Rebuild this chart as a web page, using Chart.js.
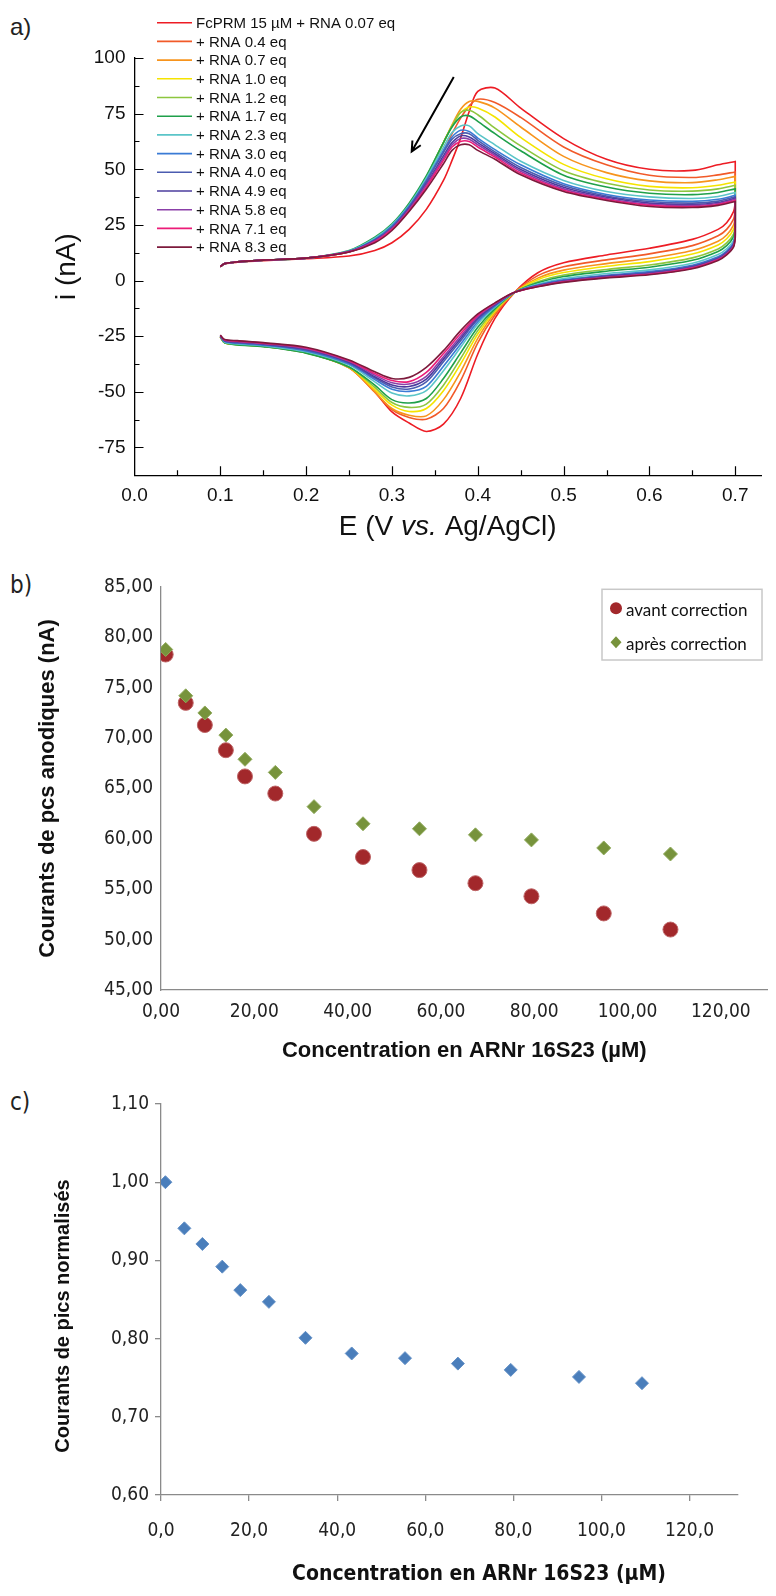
<!DOCTYPE html>
<html>
<head>
<meta charset="utf-8">
<script src="https://cdn.jsdelivr.net/npm/chart.js@4.4.0/dist/chart.umd.min.js"></script>
<style>
  body { margin: 0; background: #fff; width: 776px; height: 1596px; position: relative; overflow: hidden; }
  canvas { position: absolute; left: 0; }
  .lab { position: absolute; left: 10px; font-size: 24px; line-height: 24px; color: #222; }
</style>
</head>
<body>
<div class="lab" style="top:15px;font-family:'Liberation Sans',Arial,sans-serif">a)</div>
<div class="lab" style="top:573px;font-family:'Liberation Sans Narrow','DejaVu Sans Condensed',sans-serif">b)</div>
<div class="lab" style="top:1090px;font-family:'Liberation Sans Narrow','DejaVu Sans Condensed',sans-serif">c)</div>
<canvas id="cv" style="top:0" width="776" height="550"></canvas>
<canvas id="peaks" style="top:560px" width="776" height="510"></canvas>
<canvas id="norm" style="top:1070px" width="776" height="526"></canvas>
<script>
// ---------- panel a : voltammograms ----------
const EQ_LABELS = ['FcPRM 15 µM + RNA 0.07 eq', '+ RNA 0.4 eq', '+ RNA 0.7 eq', '+ RNA 1.0 eq',
  '+ RNA 1.2 eq', '+ RNA 1.7 eq', '+ RNA 2.3 eq', '+ RNA 3.0 eq', '+ RNA 4.0 eq',
  '+ RNA 4.9 eq', '+ RNA 5.8 eq', '+ RNA 7.1 eq', '+ RNA 8.3 eq'];
const CV_COLORS = ['#ed1c24', '#f15a29', '#f7941d', '#f5e400', '#8dc63f', '#1fa04a', '#5bc5c8',
  '#3a7bd5', '#4b5cb0', '#4b3c9e', '#8b3fa8', '#ec1c78', '#7d1a3c'];

// potential grid, forward (upper) branch then reverse (lower) branch
const E_FWD = [0.100, 0.105, 0.12, 0.15, 0.20, 0.25, 0.28, 0.30, 0.32, 0.34, 0.36, 0.37, 0.38, 0.39, 0.40, 0.42, 0.45, 0.50, 0.55, 0.60, 0.65, 0.68, 0.70];
const E_REV = [0.70, 0.698, 0.69, 0.68, 0.65, 0.60, 0.55, 0.50, 0.47, 0.443, 0.42, 0.40, 0.38, 0.36, 0.34, 0.32, 0.30, 0.28, 0.25, 0.20, 0.15, 0.12, 0.105, 0.10];

const FWD_007 = [6.3, 7.5, 8.2, 8.9, 9.8, 11.0, 13.5, 17.0, 23.0, 32.0, 45.0, 54.0, 64.0, 76.0, 85.0, 86.5, 77.5, 63.8, 54.5, 50.0, 49.5, 52.0, 53.5];
const FWD_04 = [6.3, 7.6, 8.4, 9.2, 10.1, 12.8, 18.0, 24.0, 33.0, 45.0, 58.0, 66.0, 73.0, 78.5, 81.5, 80.0, 73.3, 60.0, 52.0, 47.3, 46.3, 47.5, 48.8];
const FWD_07 = [6.3, 7.6, 8.4, 9.2, 10.1, 13.0, 18.5, 24.5, 33.5, 46.0, 62.0, 70.0, 77.0, 80.5, 80.5, 77.5, 69.0, 55.8, 48.5, 44.8, 44.0, 45.3, 46.8];
const FWD_10 = [6.3, 7.6, 8.4, 9.2, 10.1, 13.0, 19.0, 25.0, 34.0, 46.5, 62.0, 69.5, 75.5, 78.0, 77.5, 73.5, 64.3, 52.2, 45.7, 42.3, 41.7, 42.8, 44.3];
const FWD_12 = [6.3, 7.6, 8.4, 9.2, 10.1, 13.2, 19.0, 25.0, 34.0, 46.5, 62.0, 69.5, 75.5, 76.5, 74.5, 68.5, 60.5, 49.3, 43.7, 40.7, 40.2, 41.2, 42.8];
const FWD_17 = [6.3, 7.6, 8.4, 9.2, 10.1, 13.5, 19.5, 25.5, 34.8, 47.0, 62.0, 69.0, 73.5, 74.0, 71.5, 66.0, 58.3, 47.3, 42.0, 39.2, 38.6, 39.6, 41.2];
const FWD_23 = [6.3, 7.6, 8.4, 9.2, 10.1, 13.3, 19.0, 25.0, 34.0, 46.0, 60.0, 66.5, 69.5, 69.5, 66.0, 61.0, 53.6, 45.0, 40.0, 37.6, 36.9, 37.8, 39.6];
const FWD_30 = [6.3, 7.6, 8.4, 9.2, 10.1, 13.2, 18.5, 24.5, 33.5, 45.0, 58.5, 64.5, 67.5, 67.0, 64.0, 58.8, 52.0, 43.5, 38.7, 36.2, 35.6, 36.5, 38.3];
const FWD_40 = [6.3, 7.6, 8.4, 9.2, 10.1, 13.1, 18.3, 24.0, 33.0, 44.5, 57.5, 63.5, 66.0, 66.0, 63.0, 57.8, 50.8, 42.7, 38.0, 35.5, 34.8, 35.7, 37.6];
const FWD_49 = [6.3, 7.6, 8.4, 9.2, 10.1, 13.0, 18.0, 23.5, 32.5, 43.5, 56.0, 62.0, 65.0, 64.5, 62.0, 57.0, 49.9, 41.9, 37.4, 34.8, 34.2, 35.1, 37.0];
const FWD_58 = [6.3, 7.6, 8.4, 9.2, 10.1, 13.0, 17.8, 23.3, 32.0, 43.0, 55.0, 61.0, 63.8, 63.5, 61.0, 56.3, 49.1, 41.2, 36.9, 34.3, 33.7, 34.6, 36.5];
const FWD_71 = [6.3, 7.6, 8.4, 9.2, 10.1, 12.9, 17.5, 23.0, 31.5, 42.0, 54.0, 60.0, 62.5, 62.5, 60.0, 55.5, 48.3, 40.6, 36.4, 33.8, 33.2, 34.2, 36.0];
const FWD_83 = [6.3, 7.6, 8.4, 9.2, 10.1, 12.8, 17.0, 22.5, 31.0, 41.0, 52.5, 58.5, 61.0, 61.0, 58.5, 54.5, 47.5, 40.0, 36.0, 33.3, 32.8, 33.8, 35.5];

const REV_007 = [35, 31, 26, 23, 18.5, 14.5, 11.5, 8, 3.5, -5.3, -17, -33, -53, -64.5, -67.8, -64, -59, -50, -39, -32.3, -29.4, -28.6, -27.8, -25.3];
const REV_04 = [31.6, 27.6, 23, 20.1, 15.7, 12, 9.3, 6.2, 2.2, -5.3, -15.5, -28, -45, -57.5, -62.3, -61.5, -58, -50.2, -39.2, -32.4, -29.5, -28.7, -27.9, -25.3];
const REV_07 = [28.9, 24.9, 20.5, 17.7, 13.5, 10, 7.6, 4.7, 1.1, -5.3, -14.5, -26, -41, -53.5, -60.8, -60.5, -57.5, -50, -39.2, -32.4, -29.5, -28.7, -27.9, -25.3];
const REV_10 = [27, 23, 18.8, 16, 11.9, 8.5, 6.4, 3.6, 0.4, -5.3, -13.8, -24, -37.5, -49.5, -57.5, -58.8, -56, -49, -39, -32.4, -29.5, -28.7, -27.9, -25.3];
const REV_12 = [24.9, 20.9, 16.9, 14.2, 10.2, 7, 5, 2.5, -0.5, -5.3, -13.2, -22.5, -35, -47, -55.5, -57, -54.8, -48, -38.8, -32.5, -29.6, -28.8, -28, -25.3];
const REV_17 = [23.6, 19.6, 15.7, 13.1, 9.1, 6, 4.2, 1.8, -1, -5.3, -12.6, -21, -32.5, -44, -53, -55, -53.5, -47, -38.8, -32.6, -29.7, -28.9, -28, -25.3];
const REV_23 = [22, 18, 14.3, 11.7, 7.8, 4.8, 3.2, 0.9, -1.6, -5.3, -12, -19.5, -30, -40.5, -49.5, -51.8, -50.5, -45.5, -38, -32, -29.3, -28.5, -27.7, -25.1];
const REV_30 = [20.9, 16.9, 13.2, 10.7, 6.9, 4, 2.4, 0.3, -2, -5.3, -11.5, -18.5, -28.5, -38.5, -47.5, -49.8, -48.8, -44.5, -37.5, -31.6, -29, -28.2, -27.4, -25];
const REV_40 = [20.4, 16.4, 12.8, 10.3, 6.5, 3.6, 2.1, 0, -2.2, -5.3, -11.1, -17.5, -27, -36.5, -45.5, -48.7, -47.8, -43.8, -37, -31.2, -28.7, -27.9, -27.2, -24.9];
const REV_49 = [20, 16, 12.4, 9.8, 6.1, 3.3, 1.8, -0.3, -2.4, -5.3, -10.8, -16.8, -26, -35.3, -44.3, -47.6, -46.9, -43.2, -36.7, -30.9, -28.5, -27.6, -27, -24.8];
const REV_58 = [19.6, 15.6, 12.1, 9.6, 5.8, 3, 1.6, -0.4, -2.5, -5.3, -10.5, -16.2, -25, -34.2, -43, -46.5, -45.9, -42.5, -36.3, -30.6, -28.3, -27.4, -26.8, -24.7];
const REV_71 = [19.3, 15.3, 11.8, 9.3, 5.6, 2.8, 1.4, -0.6, -2.7, -5.3, -10.2, -15.6, -23.8, -32.8, -41.3, -45.4, -44.9, -41.8, -36, -30.3, -28.1, -27.2, -26.6, -24.6];
const REV_83 = [19, 15, 11.5, 9, 5.3, 2.6, 1.2, -0.8, -2.8, -5.3, -10, -15, -22.5, -31.5, -39, -43.5, -44, -41, -35.7, -30, -27.9, -27, -26.5, -24.5];

const CV_FWD = [FWD_007, FWD_04, FWD_07, FWD_10, FWD_12, FWD_17, FWD_23, FWD_30, FWD_40, FWD_49, FWD_58, FWD_71, FWD_83];
const CV_REV = [REV_007, REV_04, REV_07, REV_10, REV_12, REV_17, REV_23, REV_30, REV_40, REV_49, REV_58, REV_71, REV_83];

const CV_X_TICKS = [0, 0.1, 0.2, 0.3, 0.4, 0.5, 0.6, 0.7];
const CV_Y_TICKS = [-75, -50, -25, 0, 25, 50, 75, 100];
const ARROW_FROM = [0.372, 91.5];
const ARROW_TO = [0.323, 58];

// ---------- panel b : anodic peak currents ----------
const CONC = [1.0, 5.3, 9.4, 13.9, 18.0, 24.5, 32.8, 43.3, 55.4, 67.4, 79.4, 94.9, 109.2];
const PEAK_AVANT = [78.3, 73.5, 71.3, 68.8, 66.2, 64.5, 60.5, 58.2, 56.9, 55.6, 54.3, 52.6, 51.0];
const PEAK_APRES = [78.8, 74.2, 72.5, 70.3, 67.9, 66.6, 63.2, 61.5, 61.0, 60.4, 59.9, 59.1, 58.5];
const B_X_TICKS = [0, 20, 40, 60, 80, 100, 120];
const B_Y_TICKS = [45, 50, 55, 60, 65, 70, 75, 80, 85];

// ---------- panel c : normalised peak currents ----------
const PEAK_NORM = [1.000, 0.941, 0.921, 0.892, 0.862, 0.847, 0.801, 0.781, 0.775, 0.768, 0.760, 0.751, 0.743];
const C_X_TICKS = [0, 20, 40, 60, 80, 100, 120];
const C_Y_TICKS = [0.6, 0.7, 0.8, 0.9, 1.0, 1.1];

const ARIAL = "'Liberation Sans', Arial, sans-serif";
const NARROW = "'Liberation Sans Narrow', 'DejaVu Sans Condensed', sans-serif";

const toPoints = (xs, ys) => xs.map((x, k) => ({ x: x, y: ys[k] }));
const fixTicks = list => scale => { scale.ticks = list.map(v => ({ value: v })); };
const comma = d => v => v.toFixed(d).replace('.', ',');

// one closed voltammogram; the two corners at the switching potential are doubled
// so the spline keeps them sharp
function loop(i) {
  const fwd = toPoints(E_FWD, CV_FWD[i]);
  const rev = toPoints(E_REV, CV_REV[i]);
  return fwd.concat([fwd[fwd.length - 1], rev[0]], rev);
}

// inward tick marks for panel a
const innerTicks = {
  id: 'innerTicks',
  afterDatasetsDraw(chart) {
    const { ctx, chartArea: a, scales: { x, y } } = chart;
    ctx.save();
    ctx.strokeStyle = '#000';
    ctx.lineWidth = 1.2;
    ctx.beginPath();
    for (let k = -6; k <= 8; k++) {
      const v = k * 12.5;
      if (v <= y.min || v > y.max) continue;
      const py = Math.round(y.getPixelForValue(v)) + 0.5;
      ctx.moveTo(a.left, py);
      ctx.lineTo(a.left + (k % 2 === 0 ? 9 : 5), py);
    }
    for (let k = 1; k <= 14; k++) {
      const v = k * 0.05;
      if (v > x.max) continue;
      const px = Math.round(x.getPixelForValue(v)) + 0.5;
      ctx.moveTo(px, a.bottom);
      ctx.lineTo(px, a.bottom - (k % 2 === 0 ? 9 : 5));
    }
    ctx.stroke();
    ctx.restore();
  }
};

const cvLegend = {
  id: 'cvLegend',
  afterDraw(chart) {
    const ctx = chart.ctx;
    ctx.save();
    ctx.font = '15px ' + ARIAL;
    ctx.textBaseline = 'middle';
    chart.data.datasets.forEach((ds, i) => {
      const yy = 22.7 + i * 18.7;
      ctx.strokeStyle = ds.borderColor;
      ctx.lineWidth = 1.6;
      ctx.beginPath();
      ctx.moveTo(157, yy);
      ctx.lineTo(192, yy);
      ctx.stroke();
      ctx.fillStyle = '#111';
      ctx.fillText(ds.label, 196, yy + 1);
    });
    ctx.restore();
  }
};

const cvArrow = {
  id: 'cvArrow',
  afterDraw(chart) {
    const { ctx, scales: { x, y } } = chart;
    const x0 = x.getPixelForValue(ARROW_FROM[0]), y0 = y.getPixelForValue(ARROW_FROM[1]);
    const x1 = x.getPixelForValue(ARROW_TO[0]), y1 = y.getPixelForValue(ARROW_TO[1]);
    const ang = Math.atan2(y1 - y0, x1 - x0);
    ctx.save();
    ctx.strokeStyle = '#000';
    ctx.lineWidth = 2;
    ctx.beginPath();
    ctx.moveTo(x0, y0);
    ctx.lineTo(x1, y1);
    ctx.moveTo(x1 - 11 * Math.cos(ang - 0.45), y1 - 11 * Math.sin(ang - 0.45));
    ctx.lineTo(x1, y1);
    ctx.lineTo(x1 - 11 * Math.cos(ang + 0.45), y1 - 11 * Math.sin(ang + 0.45));
    ctx.stroke();
    ctx.restore();
  }
};

// x title with italic "vs."
const cvXTitle = {
  id: 'cvXTitle',
  afterDraw(chart) {
    const { ctx, chartArea: a } = chart;
    const parts = [['E (V ', 'normal'], ['vs.', 'italic'], [' Ag/AgCl)', 'normal']];
    ctx.save();
    ctx.fillStyle = '#111';
    ctx.textBaseline = 'middle';
    let w = 0;
    parts.forEach(p => { ctx.font = p[1] + ' 28px ' + ARIAL; w += ctx.measureText(p[0]).width; });
    let cx = (a.left + a.right) / 2 - w / 2;
    parts.forEach(p => {
      ctx.font = p[1] + ' 28px ' + ARIAL;
      ctx.fillText(p[0], cx, 527);
      cx += ctx.measureText(p[0]).width;
    });
    ctx.restore();
  }
};

new Chart(document.getElementById('cv'), {
  type: 'scatter',
  data: {
    datasets: EQ_LABELS.map((lab, i) => ({
      label: lab,
      data: loop(i),
      borderColor: CV_COLORS[i],
      backgroundColor: CV_COLORS[i],
      borderWidth: 1.6,
      showLine: true,
      pointRadius: 0,
      tension: 0.3,
      order: EQ_LABELS.length - 1 - i
    }))
  },
  options: {
    responsive: false,
    animation: false,
    devicePixelRatio: 1,
    layout: { padding: { top: 58, right: 15, left: 0, bottom: 0 } },
    plugins: { legend: { display: false }, tooltip: { enabled: false } },
    scales: {
      x: {
        type: 'linear', min: 0, max: 0.73,
        afterBuildTicks: fixTicks(CV_X_TICKS),
        afterFit: s => { s.height = 74.7; },
        grid: { display: false, drawTicks: false },
        border: { display: true, color: '#000', width: 1.3 },
        ticks: { padding: 9, color: '#111', font: { family: ARIAL, size: 19 }, maxRotation: 0, autoSkip: false, callback: v => v.toFixed(1) }
      },
      y: {
        type: 'linear', min: -87.5, max: 100,
        afterBuildTicks: fixTicks(CV_Y_TICKS),
        afterFit: s => { s.width = 134.5; },
        grid: { display: false, drawTicks: false },
        border: { display: true, color: '#000', width: 1.3 },
        ticks: { padding: 9, color: '#111', font: { family: ARIAL, size: 19 }, autoSkip: false, callback: v => String(v) },
        title: { display: true, text: 'i (nA)', color: '#111', font: { family: ARIAL, size: 28 }, padding: { top: 50, bottom: 0 } }
      }
    }
  },
  plugins: [innerTicks, cvLegend, cvArrow, cvXTitle]
});

// ---------- panel b ----------
const peakLegend = {
  id: 'peakLegend',
  afterDraw(chart) {
    const ctx = chart.ctx;
    const top = 589.3 - 560;
    ctx.save();
    ctx.strokeStyle = '#c8c8c8';
    ctx.lineWidth = 1.5;
    ctx.strokeRect(602, top, 160, 70.7);
    ctx.font = '17px Lato, ' + NARROW;
    ctx.textBaseline = 'middle';
    chart.data.datasets.forEach((ds, i) => {
      const yy = top + 19 + i * 34;
      ctx.fillStyle = ds.backgroundColor;
      ctx.beginPath();
      if (ds.pointStyle === 'circle') {
        ctx.arc(616, yy, 6, 0, Math.PI * 2);
      } else {
        ctx.moveTo(616, yy - 6); ctx.lineTo(621.5, yy); ctx.lineTo(616, yy + 6); ctx.lineTo(610.5, yy);
        ctx.closePath();
      }
      ctx.fill();
      ctx.fillStyle = '#111';
      ctx.fillText(ds.label, 626, yy + 2);
    });
    ctx.restore();
  }
};

new Chart(document.getElementById('peaks'), {
  type: 'scatter',
  data: {
    datasets: [
      { label: 'avant correction', data: toPoints(CONC, PEAK_AVANT), pointStyle: 'circle', pointRadius: 7.5,
        backgroundColor: '#a2282b', borderColor: '#bd6466', borderWidth: 1, order: 1 },
      { label: 'après correction', data: toPoints(CONC, PEAK_APRES), pointStyle: 'rectRot', pointRadius: 7,
        backgroundColor: '#77933c', borderColor: '#8faa5c', borderWidth: 1, order: 0 }
    ]
  },
  options: {
    responsive: false,
    animation: false,
    devicePixelRatio: 1,
    layout: { padding: { top: 27, right: 7, left: 0, bottom: 0 } },
    plugins: { legend: { display: false }, tooltip: { enabled: false } },
    scales: {
      x: {
        type: 'linear', min: 0, max: 130,
        afterBuildTicks: fixTicks(B_X_TICKS),
        afterFit: s => { s.height = 80; },
        grid: { display: false, drawTicks: false },
        border: { display: true, color: '#8a8a8a', width: 1.3 },
        ticks: { padding: 11, color: '#222', font: { family: NARROW, size: 19 }, maxRotation: 0, autoSkip: false, callback: comma(2) },
        title: { display: true, text: 'Concentration en ARNr 16S23 (µM)', color: '#111', font: { family: ARIAL, size: 22, weight: 'bold' }, padding: { top: 0, bottom: 6 } }
      },
      y: {
        type: 'linear', min: 45, max: 85,
        afterBuildTicks: fixTicks(B_Y_TICKS),
        afterFit: s => { s.width = 161; },
        grid: { display: false, drawTicks: false },
        border: { display: true, color: '#8a8a8a', width: 1.3 },
        ticks: { padding: 8, color: '#222', font: { family: NARROW, size: 19 }, autoSkip: false, callback: comma(2) },
        title: { display: true, text: 'Courants de pcs anodiques (nA)', color: '#111', font: { family: ARIAL, size: 22, weight: 'bold' }, padding: { top: 35, bottom: 0 } }
      }
    }
  },
  plugins: [peakLegend]
});

// ---------- panel c ----------
const normTitles = {
  id: 'normTitles',
  afterDraw(chart) {
    const ctx = chart.ctx;
    ctx.save();
    ctx.fillStyle = '#111';
    ctx.textAlign = 'center';
    ctx.textBaseline = 'middle';
    ctx.font = 'bold 21px ' + NARROW;
    ctx.fillText('Concentration en ARNr 16S23 (µM)', 479, 505);
    ctx.translate(63, 246);
    ctx.rotate(-Math.PI / 2);
    ctx.font = 'bold 20px ' + ARIAL;
    ctx.fillText('Courants de pics normalisés', 0, 0);
    ctx.restore();
  }
};

new Chart(document.getElementById('norm'), {
  type: 'scatter',
  data: {
    datasets: [
      { label: 'normalisé', data: toPoints(CONC, PEAK_NORM), pointStyle: 'rectRot', pointRadius: 6.5,
        backgroundColor: '#4a7ebb', borderColor: '#6390c6', borderWidth: 1 }
    ]
  },
  options: {
    responsive: false,
    animation: false,
    devicePixelRatio: 1,
    layout: { padding: { top: 34, right: 38, left: 0, bottom: 0 } },
    plugins: { legend: { display: false }, tooltip: { enabled: false } },
    scales: {
      x: {
        type: 'linear', min: 0, max: 131,
        afterBuildTicks: fixTicks(C_X_TICKS),
        afterFit: s => { s.height = 101; },
        grid: { display: true, drawOnChartArea: false, drawTicks: true, tickLength: 6, color: '#8a8a8a', lineWidth: 1.3 },
        border: { display: true, color: '#8a8a8a', width: 1.3 },
        ticks: { padding: 19, color: '#222', font: { family: NARROW, size: 19 }, maxRotation: 0, autoSkip: false, callback: comma(1) }
      },
      y: {
        type: 'linear', min: 0.6, max: 1.1,
        afterBuildTicks: fixTicks(C_Y_TICKS),
        afterFit: s => { s.width = 161; },
        grid: { display: true, drawOnChartArea: false, drawTicks: true, tickLength: 6, color: '#8a8a8a', lineWidth: 1.3 },
        border: { display: true, color: '#8a8a8a', width: 1.3 },
        ticks: { padding: 6, color: '#222', font: { family: NARROW, size: 19 }, autoSkip: false, callback: comma(2) }
      }
    }
  },
  plugins: [normTitles]
});
</script>
</body>
</html>
